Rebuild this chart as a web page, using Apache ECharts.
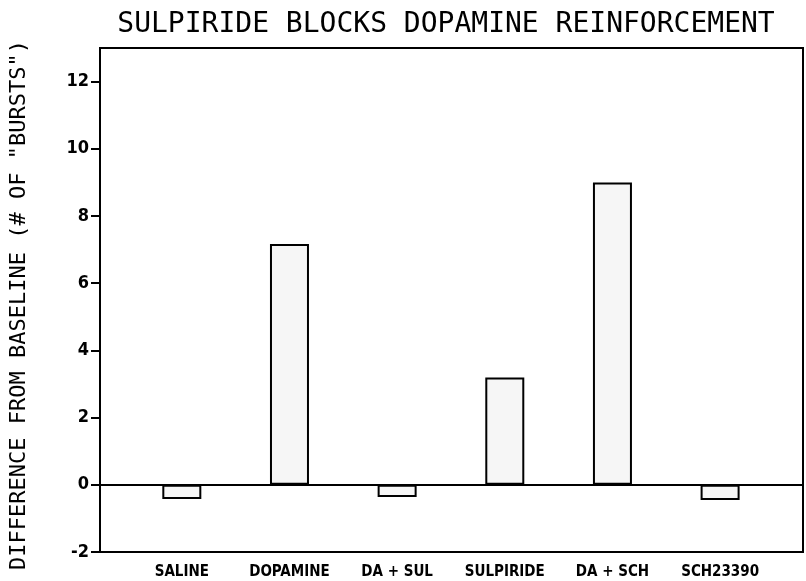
<!DOCTYPE html>
<html>
<head>
<meta charset="utf-8">
<script src="https://cdn.jsdelivr.net/npm/echarts@6/dist/echarts.min.js"></script>
<style>
  html, body { margin: 0; padding: 0; background: #fff; }
  #chart-container { width: 806px; height: 581px; }
</style>
</head>
<body>
<div id="chart-container"></div>
<script>
// groups shown along the x axis
const categories = ['SALINE', 'DOPAMINE', 'DA + SUL', 'SULPIRIDE', 'DA + SCH', 'SCH23390'];
// change in number of bursts from baseline
const burstDiff = [-0.42, 7.17, -0.36, 3.19, 9.0, -0.45];
// y tick labels
const yTicks = [-2, 0, 2, 4, 6, 8, 10, 12];

(function () {
    const myChart = echarts.init(document.getElementById('chart-container'));
    const labelFont = '"DejaVu Sans Condensed", "DejaVu Sans", sans-serif';

    const option = {
        animation: false,
        backgroundColor: '#fff',
        title: {
            text: 'SULPIRIDE BLOCKS DOPAMINE REINFORCEMENT',
            left: 441,
            textAlign: 'center',
            top: 6,
            textStyle: {
                fontFamily: '"DejaVu Sans Mono", monospace',
                fontSize: 28,
                fontWeight: 'normal',
                color: '#000',
            },
        },
        grid: {
            left: 100,
            right: 3,
            top: 48,
            bottom: 29,
            show: true,
            borderColor: '#000',
            borderWidth: 2,
        },
        xAxis: {
            type: 'value',
            min: -0.76,
            max: 5.77,
            splitLine: { show: false },
            axisLine: { show: true, onZero: false, lineStyle: { color: '#000', width: 2 } },
            axisTick: { show: false },
            axisLabel: {
                customValues: categories.map((c, i) => i),
                formatter: v => categories[Math.round(v)] || '',
                margin: 13,
                color: '#000',
                fontFamily: labelFont,
                fontWeight: 'bold',
                fontSize: 15,
            },
        },
        yAxis: {
            type: 'value',
            min: -2,
            max: 13,
            name: 'DIFFERENCE FROM BASELINE (# OF "BURSTS")',
            nameLocation: 'middle',
            nameRotate: 90,
            nameGap: 70,
            nameTextStyle: {
                fontFamily: '"DejaVu Sans Mono", monospace',
                fontSize: 22,
                color: '#000',
                padding: [0, 10, 0, 0],
            },
            splitLine: { show: false },
            axisLine: { show: true, onZero: false, lineStyle: { color: '#000', width: 2 } },
            axisTick: {
                show: true,
                customValues: yTicks,
                length: 9,
                lineStyle: { color: '#000', width: 2 },
            },
            axisLabel: {
                customValues: yTicks,
                margin: 11,
                color: '#000',
                fontFamily: labelFont,
                fontWeight: 'bold',
                fontSize: 18,
            },
        },
        series: [
            {
                type: 'bar',
                data: burstDiff.map((v, i) => [i, v]),
                barWidth: 39,
                itemStyle: {
                    color: '#f6f6f6',
                    borderColor: '#000',
                    borderWidth: 2,
                },
                markLine: {
                    silent: true,
                    symbol: 'none',
                    label: { show: false },
                    lineStyle: { color: '#000', width: 2, type: 'solid' },
                    data: [{ yAxis: 0 }],
                },
            },
        ],
    };

    myChart.setOption(option);
})();
</script>
</body>
</html>
